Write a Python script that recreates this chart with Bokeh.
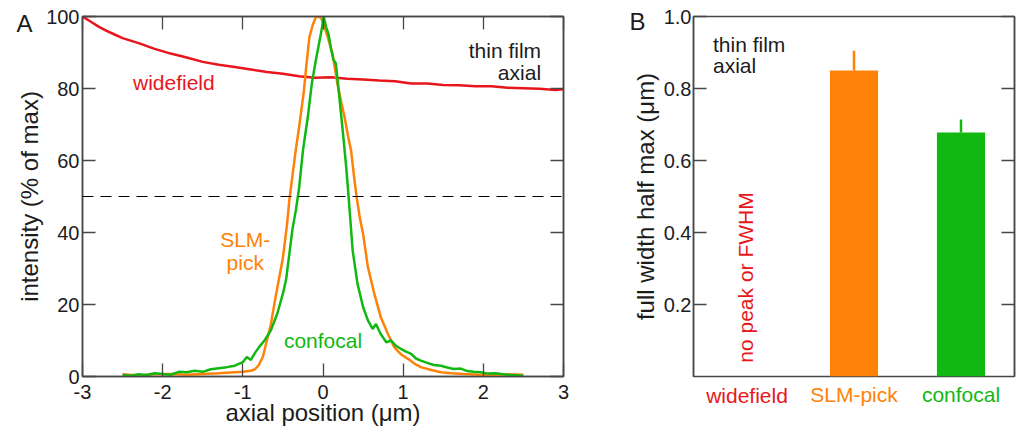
from math import pi
from bokeh.plotting import figure
from bokeh.layouts import row
from bokeh.models import (Range1d, FactorRange, LinearAxis, FixedTicker, Span, Label,
                          PrintfTickFormatter, ColumnDataSource)
from bokeh.embed import file_html
from bokeh.resources import INLINE

# ---------------- data ----------------
wide_x = [-3.0, -2.9, -2.8, -2.7, -2.6, -2.5, -2.3, -2.1, -1.9, -1.7, -1.5, -1.3, -1.1, -0.9,
          -0.7, -0.5, -0.3, -0.1, 0.1, 0.3, 0.5, 0.7, 0.9, 1.1, 1.3, 1.5, 1.7, 1.9, 2.1, 2.3,
          2.5, 2.7, 2.9, 3.0]
wide_y = [100, 98.6, 97.2, 96.0, 95.0, 94.0, 92.6, 91.0, 89.7, 88.6, 87.4, 86.6, 86.0, 85.3,
          84.6, 84.1, 83.4, 83.0, 83.1, 82.7, 82.5, 82.2, 82.0, 81.4, 81.4, 81.0, 80.9, 80.6,
          80.6, 80.2, 80.1, 79.9, 79.6, 79.8]

slm_x = [-2.5, -2.3, -2.1, -1.9, -1.7, -1.5, -1.3, -1.1, -1.0, -0.9, -0.85, -0.8, -0.75, -0.7,
         -0.65, -0.6, -0.55, -0.5, -0.45, -0.42, -0.38, -0.34, -0.3, -0.27, -0.24, -0.21, -0.17,
         -0.13, -0.09, -0.05, -0.02, 0.02, 0.06, 0.12, 0.18, 0.23, 0.27, 0.31, 0.35, 0.39, 0.42,
         0.46, 0.5, 0.56, 0.64, 0.72, 0.81, 0.89, 0.97, 1.06, 1.14, 1.22, 1.35, 1.47, 1.6, 1.76,
         1.95, 2.1, 2.3, 2.5]
slm_y = [0.6, 0.3, 0.6, 0.7, 0.5, 0.7, 0.9, 1.2, 1.3, 1.6, 2.0, 3.2, 5.5, 10, 14.5, 21, 27, 33,
         42, 48.9, 56, 62.8, 69, 74, 79, 85.9, 94.2, 97.5, 99.8, 100, 99.4, 97, 94.2, 89.6, 81.3,
         76, 72, 67, 62.8, 55, 49.8, 44, 39.6, 30.4, 23, 16.5, 11.8, 8.1, 6.2, 4.9, 3.6, 2.6,
         1.8, 1.2, 0.9, 0.7, 0.5, 0.4, 0.6, 0.5]

conf_x = [-2.5, -2.4, -2.3, -2.2, -2.1, -2.0, -1.9, -1.8, -1.7, -1.6, -1.5, -1.4, -1.3, -1.2,
          -1.1, -1.0, -0.95, -0.9, -0.85, -0.8, -0.73, -0.65, -0.57, -0.5, -0.46, -0.42, -0.38,
          -0.34, -0.3, -0.25, -0.19, -0.14, -0.09, -0.05, -0.02, 0.01, 0.04, 0.07, 0.1, 0.13,
          0.16, 0.2, 0.25, 0.29, 0.32, 0.37, 0.43, 0.5, 0.56, 0.62, 0.66, 0.72, 0.79, 0.85, 0.91,
          0.97, 1.03, 1.1, 1.16, 1.22, 1.3, 1.38, 1.47, 1.55, 1.63, 1.72, 1.8, 1.88, 1.97, 2.05,
          2.15, 2.25, 2.35, 2.5]
conf_y = [0.4, 0.2, 0.6, 0.4, 0.9, 0.7, 0.5, 1.3, 1.2, 1.6, 1.3, 2.0, 2.3, 2.6, 3.0, 4.0, 5.4,
          4.6, 6.5, 8.1, 10, 12.8, 17.5, 23, 27, 34, 41, 46, 52, 62.8, 72, 81.3, 87.8, 92.4, 96,
          99.8, 97, 95, 91, 88, 87, 78.5, 67.4, 58, 49.8, 35, 25.8, 19.3, 15.6, 13.2, 14.6, 11.8,
          9.5, 10, 8.5, 7.7, 7.0, 6.3, 5.0, 4.4, 3.8, 3.2, 3.0, 2.5, 2.1, 2.2, 1.5, 1.3, 1.2, 0.8,
          0.9, 0.6, 0.4, 0.2]

a_xticks = [-3, -2, -1, 0, 1, 2, 3]
a_yticks = [0, 20, 40, 60, 80, 100]
half_max = 50

categories = ["widefield", "SLM-pick", "confocal"]
bar_cats = ["SLM-pick", "confocal"]
bar_fwhm = [0.85, 0.678]
bar_err = [0.055, 0.036]
b_yticks = [0.2, 0.4, 0.6, 0.8, 1.0]

# ---------------- style ----------------
FONT = "Liberation Sans"
RED = "#e8161c"
ORANGE = "#ff8208"
GREEN = "#12b812"
AX = "#474747"
TXT = "#1c1c1c"
cat_colors = {"widefield": RED, "SLM-pick": ORANGE, "confocal": GREEN}


def style_axis(ax, ticks, labels=True, standoff=3):
    ax.ticker = FixedTicker(ticks=ticks)
    ax.major_tick_in = 13
    ax.major_tick_out = 0
    ax.minor_tick_line_color = None
    ax.axis_line_color = AX
    ax.axis_line_width = 1.5
    ax.major_tick_line_color = AX
    ax.major_tick_line_width = 1.3
    ax.major_label_text_font = FONT
    ax.major_label_text_color = TXT
    ax.major_label_text_font_size = "20px"
    ax.axis_label_text_font = FONT
    ax.axis_label_text_font_style = "normal"
    ax.axis_label_text_color = TXT
    ax.axis_label_text_font_size = "24px"
    ax.axis_label_standoff = 0
    ax.major_label_standoff = standoff
    if not labels:
        ax.major_label_overrides = {t: "" for t in ticks}
        ax.major_label_text_font_size = "4px"
        ax.major_label_standoff = 0


def text_axis(at, text, size, standoff, color=TXT):
    """An axis with no line and no tick marks that carries one text at one position."""
    ax = LinearAxis(ticker=FixedTicker(ticks=[at]), major_label_overrides={at: text})
    ax.axis_line_color = None
    ax.major_tick_line_color = None
    ax.minor_tick_line_color = None
    ax.major_tick_in = 0
    ax.major_tick_out = 0
    ax.major_label_text_font = FONT
    ax.major_label_text_color = color
    ax.major_label_text_font_size = size
    ax.major_label_standoff = standoff
    return ax


def txt(p, x, y, s, color=TXT, align="left", baseline="middle", size="21px", **kw):
    p.add_layout(Label(x=x, y=y, text=s, text_color=color, text_font=FONT, text_font_size=size,
                       text_align=align, text_baseline=baseline, **kw))


# ---------------- panel A ----------------
pA = figure(width=608, height=432, output_backend="svg", toolbar_location=None,
            x_range=Range1d(-3, 3), y_range=Range1d(0, 100),
            min_border_left=82, min_border_right=45, min_border_top=16, min_border_bottom=56)
pA.grid.visible = False
pA.outline_line_color = AX
pA.outline_line_width = 1.5
pA.xaxis.axis_label = "axial position (\u03bcm)"
pA.yaxis.axis_label = "intensity (% of max)"
style_axis(pA.xaxis[0], a_xticks, standoff=8)
pA.xaxis[0].major_label_overrides = {t: str(t) for t in a_xticks}
pA.xaxis[0].axis_label_standoff = -3
style_axis(pA.yaxis[0], a_yticks, standoff=3)
top_ax = LinearAxis()
right_ax = LinearAxis()
style_axis(top_ax, a_xticks, labels=False)
style_axis(right_ax, a_yticks, labels=False)
pA.add_layout(top_ax, "above")
pA.add_layout(right_ax, "right")
pA.add_layout(text_axis(98, "A", "24px", -19), "left")

pA.add_layout(Span(location=half_max, dimension="width", line_color="black",
                   line_width=1.2, line_dash="11 7"))
pA.line(wide_x, wide_y, line_color=RED, line_width=2.5)
pA.line(slm_x, slm_y, line_color=ORANGE, line_width=2.5)
pA.line(conf_x, conf_y, line_color=GREEN, line_width=2.5)

txt(pA, -2.37, 81.6, "widefield", RED)
txt(pA, -0.97, 38.0, "SLM-", ORANGE, align="center")
txt(pA, -0.97, 31.6, "pick", ORANGE, align="center")
txt(pA, 0.0, 10.0, "confocal", GREEN, align="center")
txt(pA, 2.72, 90.6, "thin film", TXT, align="right")
txt(pA, 2.72, 84.4, "axial", TXT, align="right")

# ---------------- panel B ----------------
pB = figure(width=409, height=432, output_backend="svg", toolbar_location=None,
            x_range=FactorRange(*categories), y_range=Range1d(0, 1.0),
            x_axis_location=None,
            min_border_left=85, min_border_right=3, min_border_top=16, min_border_bottom=56)
pB.grid.visible = False
pB.outline_line_color = AX
pB.outline_line_width = 1.5
pB.yaxis.formatter = PrintfTickFormatter(format="%.1f")
pB.yaxis.axis_label = "full width half max (\u03bcm)"
style_axis(pB.yaxis[0], b_yticks, standoff=2)
pB.yaxis[0].axis_label_standoff = 2
rb_ax = LinearAxis()
style_axis(rb_ax, b_yticks, labels=False)
pB.add_layout(rb_ax, "right")
pB.add_layout(text_axis(0.985, "B", "24px", -17), "left")

# category names, each in its own colour, one text axis per category placed at the
# category's position on the factor scale; later axes are pulled back up onto the first row
cpos = {c: i + 0.5 for i, c in enumerate(categories)}
for i, c in enumerate(categories):
    pB.add_layout(text_axis(cpos[c], c, "21px", 7 if i == 0 else -27, cat_colors[c]), "below")

src = ColumnDataSource(dict(
    cat=bar_cats, fwhm=bar_fwhm,
    top=[v + e for v, e in zip(bar_fwhm, bar_err)],
    color=[cat_colors[c] for c in bar_cats]))
pB.vbar(x="cat", top="fwhm", bottom=0, width=0.45, fill_color="color", line_color=None, source=src)
pB.segment(x0="cat", y0="fwhm", x1="cat", y1="top", line_color="color", line_width=2.5, source=src)

txt(pB, cpos["widefield"], 0.275, "no peak or FWHM", RED, align="center", angle=pi / 2, x_offset=-2)
txt(pB, cpos["widefield"], 0.922, "thin film", TXT, x_offset=-34)
txt(pB, cpos["widefield"], 0.863, "axial", TXT, x_offset=-34)

layout = row(pA, pB)
open("out.html", "w").write(file_html(layout, INLINE))
